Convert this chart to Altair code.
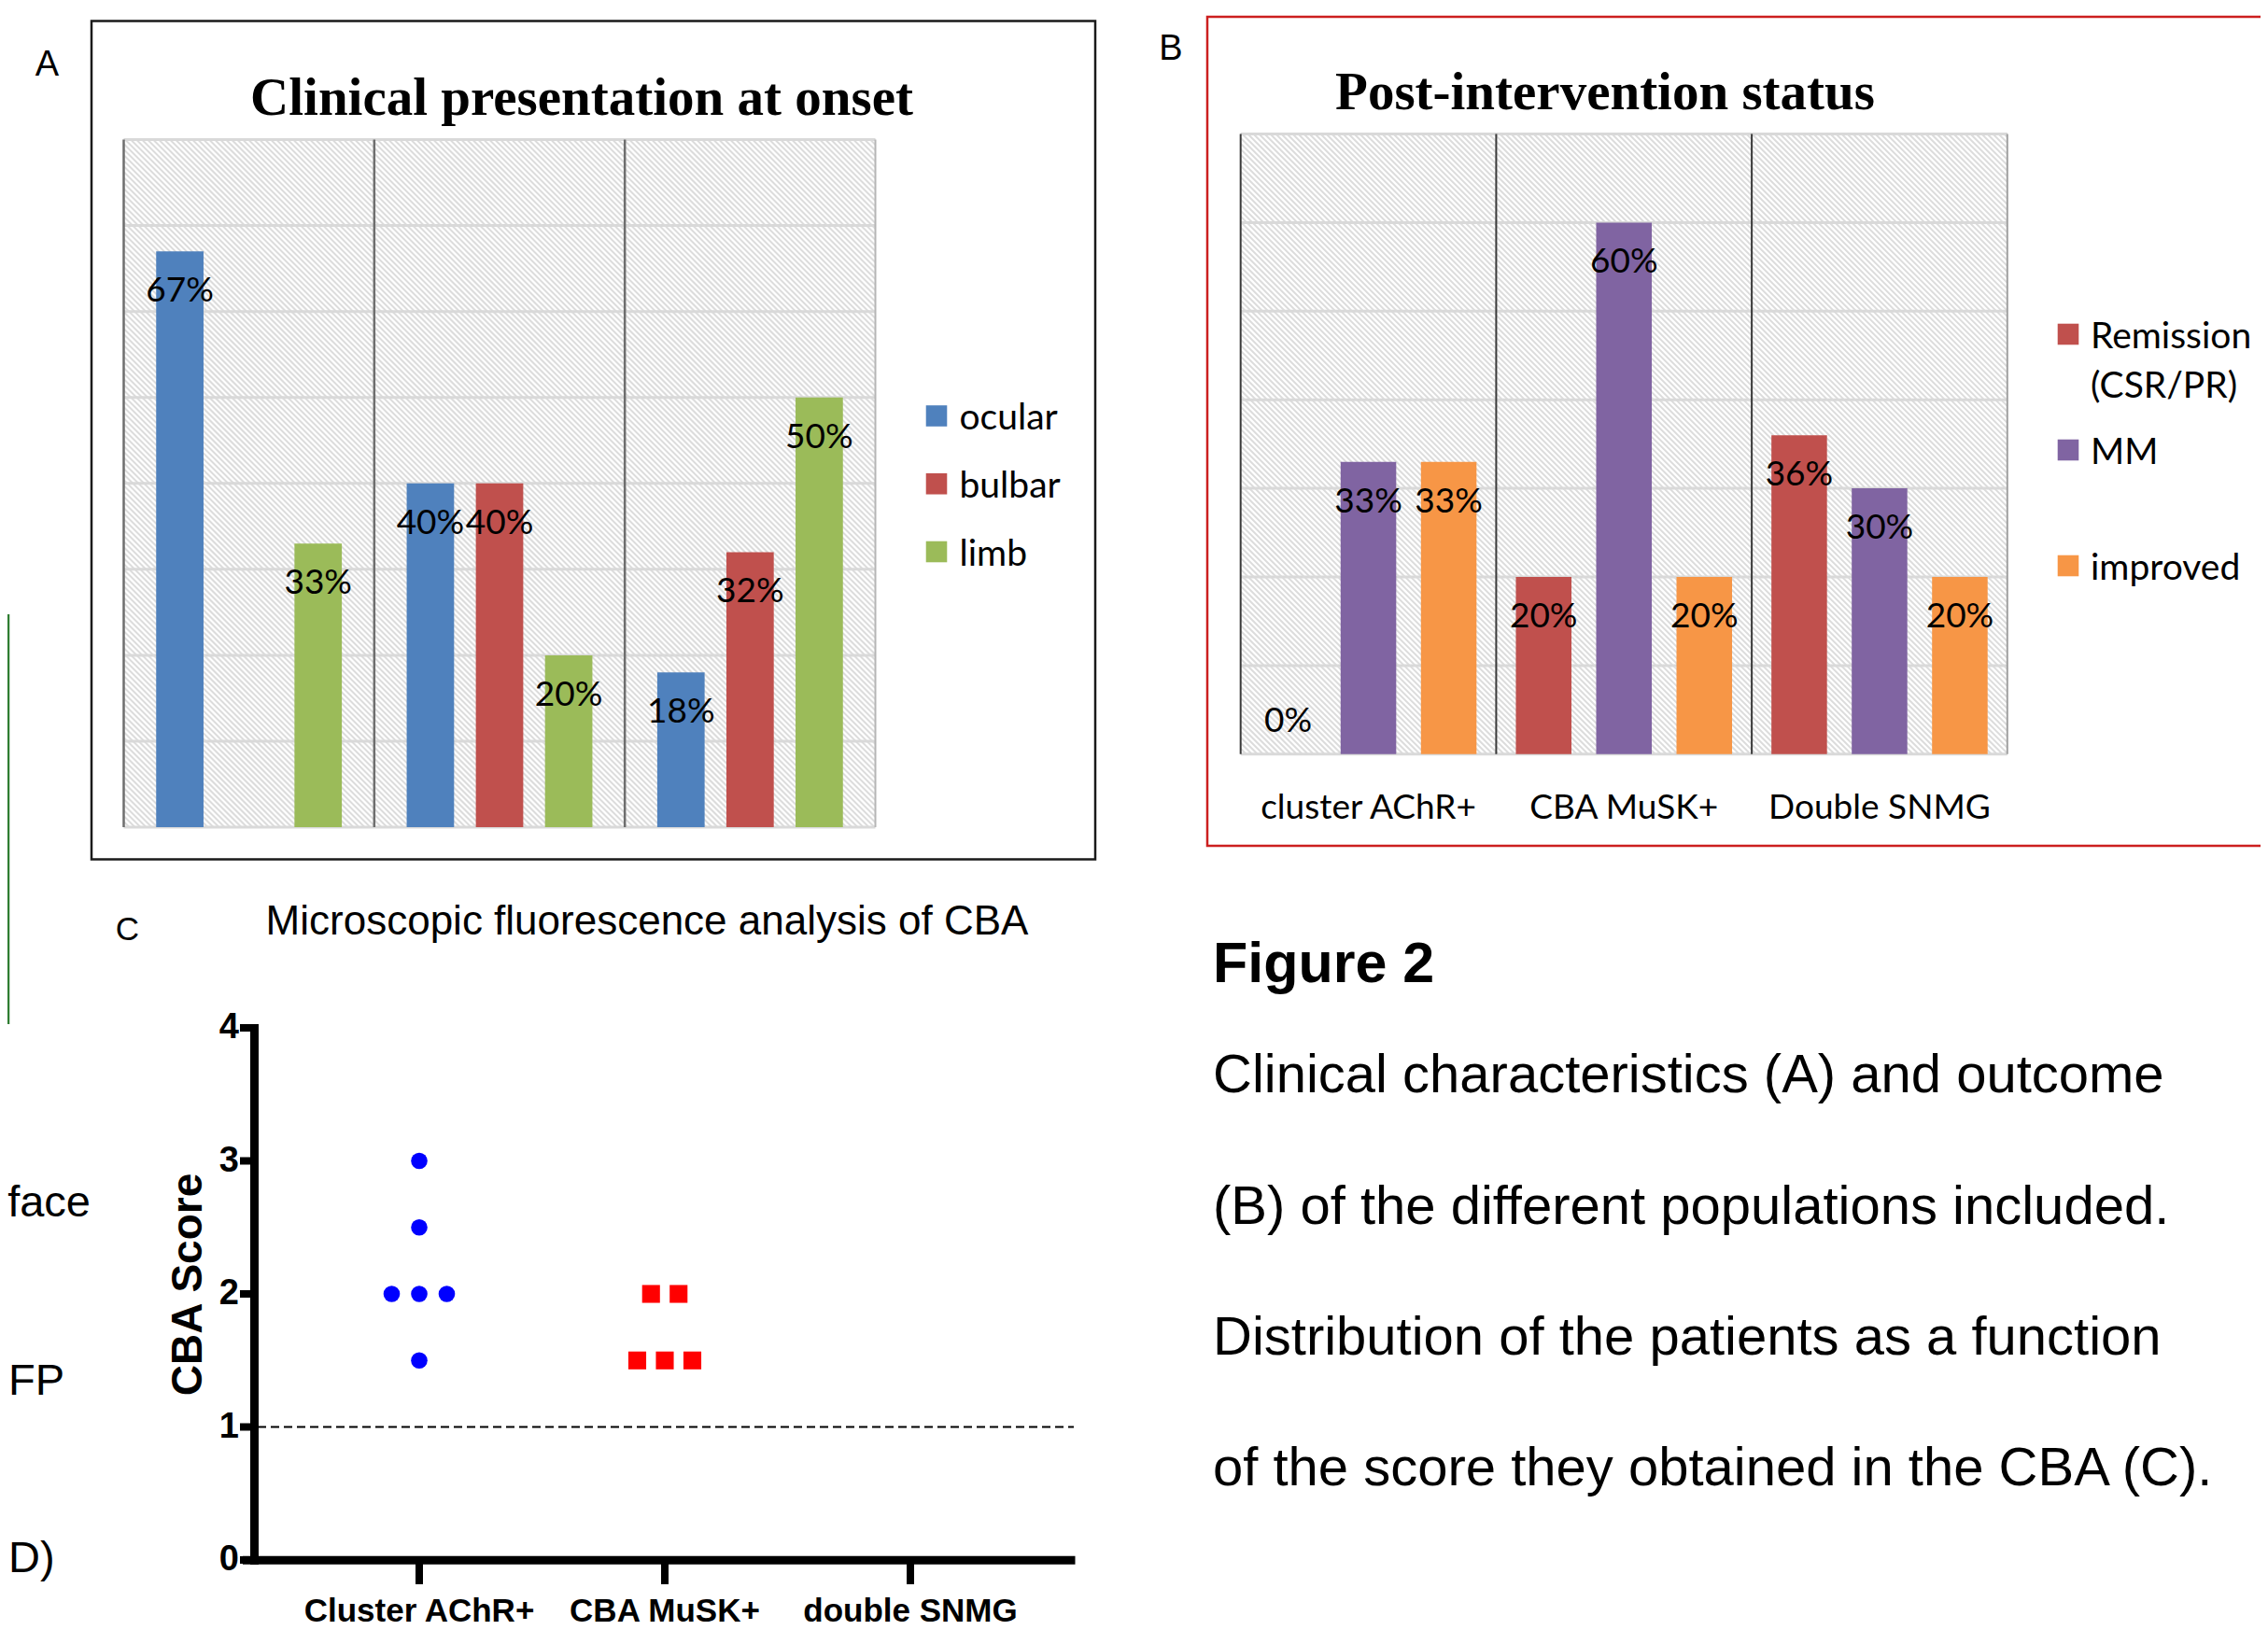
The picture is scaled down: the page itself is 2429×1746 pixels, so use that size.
import json
import altair as alt
import pandas as pd

W, H = 2413, 1730


def P(v):
    # page pixel -> chart pixel (page has an 8px margin)
    return v - 8


# ------------------------------------------------------------------ data
CATEGORIES = ["cluster AChR+", "CBA MuSK+", "Double SNMG"]

A_TITLE = "Clinical presentation at onset"
A_SERIES = ["ocular", "bulbar", "limb"]
A_COLORS = ["#4F81BD", "#C0504D", "#9BBB59"]
A_OCULAR = [67, 40, 18]
A_BULBAR = [None, 40, 32]
A_LIMB = [33, 20, 50]
A_GRID = [0, 10, 20, 30, 40, 50, 60, 70, 80]

B_TITLE = "Post-intervention status"
B_SERIES = ["Remission (CSR/PR)", "MM", "improved"]
B_COLORS = ["#C0504D", "#8064A2", "#F79646"]
B_REMISSION = [0, 20, 36]
B_MM = [33, 60, 30]
B_IMPROVED = [33, 20, 20]
B_GRID = [0, 10, 20, 30, 40, 50, 60, 70]

C_TITLE = "Microscopic fluorescence analysis of CBA"
C_YTITLE = "CBA Score"
C_GROUPS = ["Cluster AChR+", "CBA MuSK+", "double SNMG"]
C_ACHR = [3, 2.5, 2, 2, 2, 1.5]
C_MUSK = [2, 2, 1.5, 1.5, 1.5]
C_SNMG = []
C_TICKS = [0, 1, 2, 3, 4]
C_THRESHOLD = [1]

FIG_TITLE = "Figure 2"
CAPTION = [
    "Clinical characteristics (A) and outcome",
    "(B) of the different populations included.",
    "Distribution of the patients as a function",
    "of the score they obtained in the CBA (C).",
]
FRAGMENTS = ["face", "FP", "D)"]

# ------------------------------------------------------------------ fonts
SERIF = "Liberation Serif"
CAL = "Lato"
ARIAL = "Liberation Sans"

ONE = pd.DataFrame({"k": [0]})


def df_bars(series, cols):
    rows = []
    for s, vals in zip(series, cols):
        for c, v in zip(CATEGORIES, vals):
            if v is not None:
                rows.append({"cat": c, "series": s, "v": v})
    return pd.DataFrame(rows)


def text(t, x, y, size, font, weight="normal", align="left", baseline="alphabetic", angle=0, color="black"):
    return alt.Chart(ONE).mark_text(
        text=t, font=font, fontSize=size, fontWeight=weight, align=align,
        baseline=baseline, angle=angle, color=color,
    ).encode(x=alt.value(P(x)), y=alt.value(P(y)))


def box(x0, y0, x1, y1, color, width):
    return alt.Chart(ONE).mark_rect(fillOpacity=0, stroke=color, strokeWidth=width).encode(
        x=alt.value(P(x0)), x2=alt.value(P(x1)), y=alt.value(P(y0)), y2=alt.value(P(y1))
    )


def bar_panel(df, series, colors, x0, x1, ybot, ytop, ymax, grid, pad_in, pad_out,
              sep_color, sep_w, right_color, legend_x, legend_y0, legend_y1, legend_text_x):
    bw = (P(x1) - P(x0)) / len(CATEGORIES)
    xs = alt.Scale(type="band", domain=CATEGORIES, range=[P(x0), P(x1)], paddingInner=0, paddingOuter=0)
    ys = alt.Scale(domain=[0, ymax], range=[P(ybot), P(ytop)], nice=False, zero=True)
    os_ = alt.Scale(type="band", domain=series, range=[0, bw], paddingInner=pad_in, paddingOuter=pad_out)
    cs = alt.Scale(domain=series, range=colors)
    X = alt.X("cat:N", scale=xs, axis=None)
    XB = alt.X("cat:N", scale=xs, axis=None, bandPosition=0)
    XO = alt.XOffset("series:N", scale=os_)
    Y = alt.Y("v:Q", scale=ys, axis=None)
    layers = []

    # hatched plot background
    hx0, hx1, hy0, hy1 = P(x0), P(x1), P(ytop), P(ybot)
    hatch = (
        alt.Chart(alt.sequence(start=hx0 - hy1, stop=hx1 - hy0, step=6, as_="c"))
        .transform_calculate(xa=f"max({hx0}, datum.c + {hy0})")
        .transform_calculate(xb=f"min({hx1}, datum.c + {hy1})")
        .transform_calculate(ya="datum.xa - datum.c")
        .transform_calculate(yb="datum.xb - datum.c")
        .mark_rule(color="#dcdcdc", strokeWidth=2)
        .encode(
            x=alt.X("xa:Q", scale=None, axis=None),
            y=alt.Y("ya:Q", scale=None, axis=None),
            x2="xb:Q",
            y2="yb:Q",
        )
    )
    layers.append(hatch)

    # horizontal gridlines
    layers.append(
        alt.Chart(pd.DataFrame({"v": grid}))
        .mark_rule(color="#d9d9d9", strokeWidth=3)
        .encode(y=Y, x=alt.value(P(x0)), x2=alt.value(P(x1)))
    )
    # category separators
    layers.append(
        alt.Chart(pd.DataFrame({"cat": CATEGORIES}))
        .mark_rule(color=sep_color, strokeWidth=sep_w)
        .encode(x=XB, y=alt.value(P(ytop)), y2=alt.value(P(ybot)))
    )
    layers.append(
        alt.Chart(ONE)
        .mark_rule(color=right_color, strokeWidth=2)
        .encode(x=alt.value(P(x1)), y=alt.value(P(ytop)), y2=alt.value(P(ybot)))
    )
    # bars
    layers.append(
        alt.Chart(df)
        .mark_bar()
        .encode(x=X, xOffset=XO, y=Y, color=alt.Color("series:N", scale=cs, legend=None))
    )
    # value labels
    for flt, dy in (("datum.v > 0", 43), ("datum.v == 0", -35)):
        layers.append(
            alt.Chart(df)
            .transform_filter(flt)
            .transform_calculate(lab="datum.v + '%'")
            .mark_text(dy=dy, font=CAL, fontSize=37, baseline="middle", color="black")
            .encode(x=XB, xOffset=alt.XOffset("series:N", scale=os_, bandPosition=0.5), y=Y, text="lab:N")
        )
    # legend
    ldf = pd.DataFrame({"series": series})
    LY = alt.Y("series:N", scale=alt.Scale(type="point", domain=series,
                                           range=[P(legend_y0), P(legend_y1)], padding=0), axis=None)
    layers.append(
        alt.Chart(ldf)
        .mark_square(size=510, opacity=1)
        .encode(x=alt.value(P(legend_x)), y=LY, color=alt.Color("series:N", scale=cs, legend=None))
    )
    layers.append(
        alt.Chart(ldf)
        .mark_text(align="left", baseline="alphabetic", dy=14.5, font=CAL, fontSize=39,
                   lineBreak=" ", lineHeight=53, color="black")
        .encode(x=alt.value(P(legend_text_x)), y=LY, text="series:N")
    )
    return layers, xs


layers = []

# ------------------------------------------------------------------ panel A
dfA = df_bars(A_SERIES, [A_OCULAR, A_BULBAR, A_LIMB])
layers.append(box(98, 22.5, 1173, 920.5, "#1a1a1a", 2.5))
la, _ = bar_panel(dfA, A_SERIES, A_COLORS, 132.5, 937.5, 886, 149.5, 80, A_GRID,
                  0.315, 0.469, "#6e6e6e", 2.5, "#b5b5b5", 1003, 445.5, 591, 1027.5)
layers += la
layers.append(text(A_TITLE, 623, 123, 57, SERIF, weight="bold", align="center"))
layers.append(text("A", 50.5, 81, 38, ARIAL, align="center"))

# ------------------------------------------------------------------ panel B
dfB = df_bars(B_SERIES, [B_REMISSION, B_MM, B_IMPROVED])
layers.append(box(1293, 18, 2440, 906, "#cc1f1f", 2.5))
lb, xsB = bar_panel(dfB, B_SERIES, B_COLORS, 1328.7, 2149.8, 807.8, 143.5, 70, B_GRID,
                    0.308, 0.245, "#3a3a3a", 2, "#a0a0a0", 2215, 358, 606, 2239)
layers += lb
layers.append(
    alt.Chart(pd.DataFrame({"cat": CATEGORIES}))
    .mark_text(font=CAL, fontSize=37, baseline="alphabetic", color="black")
    .encode(x=alt.X("cat:N", scale=xsB, axis=None), y=alt.value(P(877)), text="cat:N")
)
layers.append(text(B_TITLE, 1719, 117, 57, SERIF, weight="bold", align="center"))
layers.append(text("B", 1254, 64, 38, ARIAL, align="center"))

# ------------------------------------------------------------------ panel C
ycs = alt.Scale(domain=[0, 4], range=[P(1671), P(1101)], nice=False)
xcs_pt = alt.Scale(type="point", domain=C_GROUPS, range=[P(449), P(975)], padding=0)
xcs_lin = alt.Scale(domain=[0, len(C_GROUPS) - 1], range=[P(449), P(975)], nice=False, zero=False)
SPREAD = 29.5 / 263.0

rowsC = []
for g, vals in zip(C_GROUPS, [C_ACHR, C_MUSK, C_SNMG]):
    for v in vals:
        rowsC.append({"group": g, "score": v})
dfC = pd.DataFrame(rowsC)

layers.append(text(C_TITLE, 693, 1000.5, 44, ARIAL, align="center"))
layers.append(text("C", 136.5, 1006.5, 35, ARIAL, align="center"))

# dashed threshold
layers.append(
    alt.Chart(pd.DataFrame({"v": C_THRESHOLD}))
    .mark_rule(strokeDash=[9, 5], strokeWidth=2.2, color="black")
    .encode(y=alt.Y("v:Q", scale=ycs, axis=None), x=alt.value(P(276)), x2=alt.value(P(1150)))
)
# axis lines
layers.append(
    alt.Chart(ONE).mark_rule(strokeWidth=9, color="black", strokeCap="butt")
    .encode(x=alt.value(P(272.5)), y=alt.value(P(1097)), y2=alt.value(P(1676)))
)
layers.append(
    alt.Chart(ONE).mark_rule(strokeWidth=9, color="black", strokeCap="butt")
    .encode(y=alt.value(P(1671.3)), x=alt.value(P(260)), x2=alt.value(P(1151.5)))
)
# y ticks and labels
layers.append(
    alt.Chart(pd.DataFrame({"v": C_TICKS}))
    .mark_rule(strokeWidth=8, color="black", strokeCap="butt")
    .encode(y=alt.Y("v:Q", scale=ycs, axis=None), x=alt.value(P(257)), x2=alt.value(P(270)))
)
layers.append(
    alt.Chart(pd.DataFrame({"v": C_TICKS}))
    .mark_text(font=ARIAL, fontSize=38, fontWeight="bold", align="right", baseline="middle", color="black")
    .encode(y=alt.Y("v:Q", scale=ycs, axis=None), x=alt.value(P(256)), text="v:N")
)
# x ticks and labels
layers.append(
    alt.Chart(pd.DataFrame({"g": C_GROUPS}))
    .mark_rule(strokeWidth=8, color="black", strokeCap="butt")
    .encode(x=alt.X("g:N", scale=xcs_pt, axis=None), y=alt.value(P(1675)), y2=alt.value(P(1697)))
)
layers.append(
    alt.Chart(pd.DataFrame({"g": C_GROUPS}))
    .mark_text(font=ARIAL, fontSize=35, fontWeight="bold", align="center", baseline="alphabetic", color="black")
    .encode(x=alt.X("g:N", scale=xcs_pt, axis=None), y=alt.value(P(1737)), text="g:N")
)
# y title
layers.append(text(C_YTITLE, 216, 1376, 46, ARIAL, weight="bold", align="center", angle=270))

# points
groups_js = json.dumps(C_GROUPS)
layers.append(
    alt.Chart(dfC)
    .transform_window(rank="row_number()", groupby=["group", "score"])
    .transform_joinaggregate(cnt="count()", groupby=["group", "score"])
    .transform_calculate(
        xpos=f"indexof({groups_js}, datum.group) + (datum.rank - (datum.cnt + 1) / 2) * {SPREAD}"
    )
    .mark_point(filled=True, opacity=1, strokeWidth=0)
    .encode(
        x=alt.X("xpos:Q", scale=xcs_lin, axis=None),
        y=alt.Y("score:Q", scale=ycs, axis=None),
        shape=alt.Shape("group:N", scale=alt.Scale(domain=C_GROUPS, range=["circle", "square", "triangle-up"]), legend=None),
        color=alt.Color("group:N", scale=alt.Scale(domain=C_GROUPS, range=["#0000ff", "#ff0000", "#000000"]), legend=None),
        size=alt.Size("group:O", scale=alt.Scale(domain=C_GROUPS, range=[310, 420, 310]), legend=None),
    )
)

# ------------------------------------------------------------------ caption
layers.append(text(FIG_TITLE, 1299, 1052, 61, ARIAL, weight="bold"))
for line, base in zip(CAPTION, [1170, 1311, 1451, 1591]):
    layers.append(text(line, 1299, base, 58, ARIAL))

# ------------------------------------------------------------------ cropped fragments on the left edge
layers.append(text(FRAGMENTS[0], 97, 1303, 47, ARIAL, align="right"))
layers.append(text(FRAGMENTS[1], 69, 1494, 47, ARIAL, align="right"))
layers.append(text(FRAGMENTS[2], 9, 1684, 47, ARIAL, align="left"))
layers.append(
    alt.Chart(ONE).mark_rule(strokeWidth=2.5, color="#2f7d32")
    .encode(x=alt.value(1), y=alt.value(P(658)), y2=alt.value(P(1097)))
)

chart = (
    alt.layer(*layers)
    .resolve_scale(x="independent", y="independent", color="independent",
                   xOffset="independent", shape="independent", size="independent")
    .properties(width=W, height=H, autosize=alt.AutoSizeParams(type="none"), padding=0, background="white")
    .configure_view(stroke=None)
)

chart.save("out.html", embed_options={"renderer": "svg", "actions": False})
